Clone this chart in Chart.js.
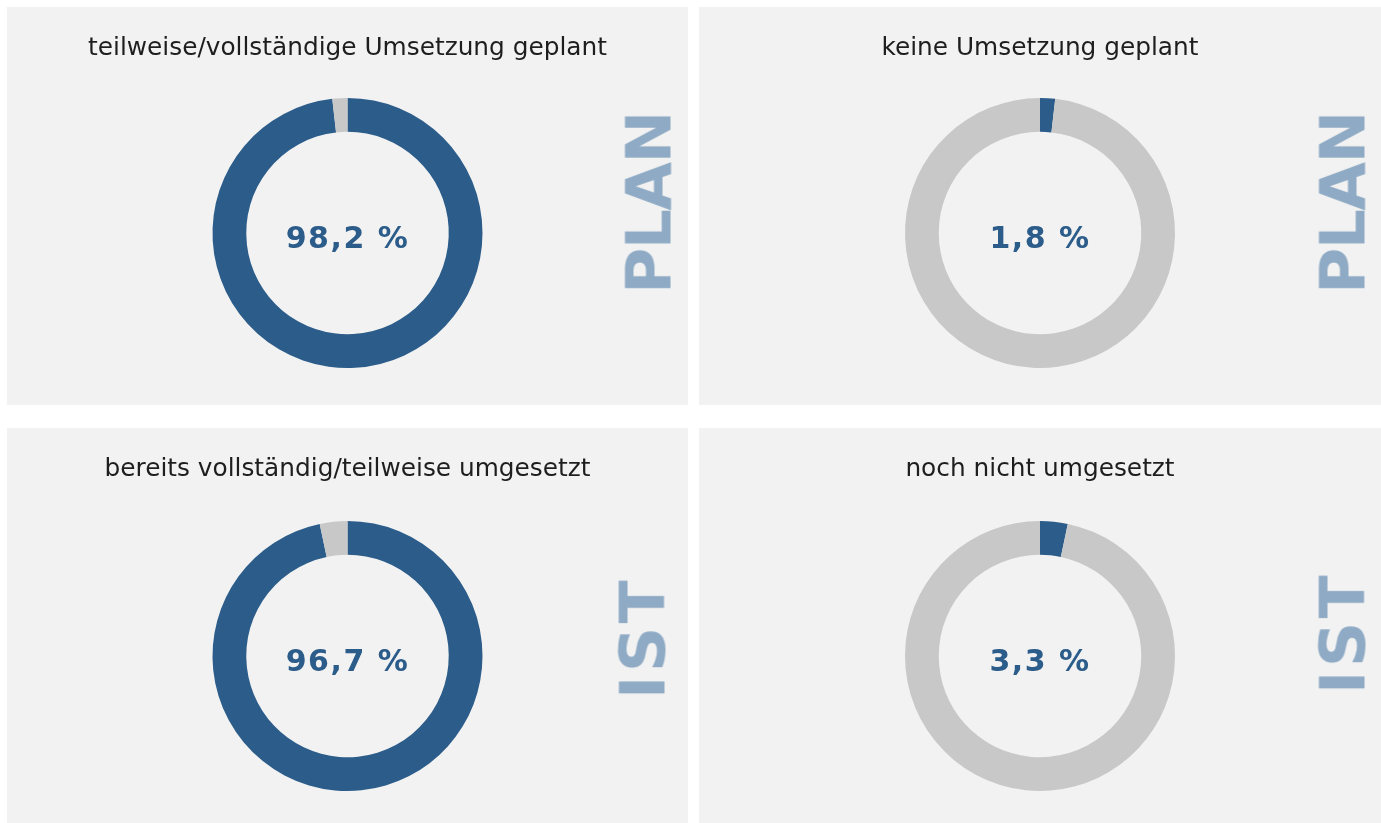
<!DOCTYPE html>
<html>
<head>
<meta charset="utf-8">
<script src="https://cdn.jsdelivr.net/npm/chart.js@4.4.1/dist/chart.umd.min.js"></script>
<style>
  html, body { margin: 0; padding: 0; background: #fff; }
  #board { position: relative; width: 1381px; height: 823px; overflow: hidden; }
  .panel { position: absolute; background: #f2f2f2; }
  .panel canvas { position: absolute; left: 0; top: 0; }
  .title {
    position: absolute; left: 0; right: 0; text-align: center;
    font-family: "DejaVu Sans", Verdana, sans-serif; font-size: 24.8px; color: #1e1e1e;
    white-space: nowrap;
  }
  .value {
    position: absolute; transform: translate(-50%, -50%);
    font-family: "DejaVu Sans", Verdana, sans-serif; font-weight: bold; font-size: 30px;
    letter-spacing: 1.5px; color: #2b5c8a; white-space: nowrap;
  }
  .side {
    position: absolute; transform: translate(-50%, -50%) rotate(-90deg);
    font-family: "DejaVu Sans", Verdana, sans-serif; font-weight: bold; font-size: 63px;
    color: #8eaac4; white-space: nowrap; line-height: 1;
  }
</style>
</head>
<body>
<div id="board"></div>
<script>
// Four donut panels: share implemented/planned vs. not.

const PANEL_TITLES = [
  'teilweise/vollständige Umsetzung geplant',
  'keine Umsetzung geplant',
  'bereits vollständig/teilweise umgesetzt',
  'noch nicht umgesetzt'
];
const SHARE_MAIN = [98.2, 1.8, 96.7, 3.3];   // blue segment, %
const SHARE_REST = [1.8, 98.2, 3.3, 96.7];   // grey segment, %
const SIDE_LABELS = ['PLAN', 'PLAN', 'IST', 'IST'];

const BLUE = '#2b5c8a';
const GREY = '#c8c8c8';

// panel boxes on the 1381x823 board
const PANEL_BOX = [
  {x: 7, y: 7, w: 681, h: 398},
  {x: 699, y: 7, w: 682, h: 398},
  {x: 7, y: 428, w: 681, h: 395},
  {x: 699, y: 428, w: 682, h: 395}
];
const RING_CY = [226, 226, 228, 228];       // donut centre within panel
const RING_R = 135;
const SIDE_POS = [{x: 642, y: 196}, {x: 644, y: 196}, {x: 636, y: 210}, {x: 644, y: 205}];
const SIDE_SPACING = {PLAN: '-1.5px', IST: '3.5px'};

function fmtPct(v) {
  return v.toFixed(1).replace('.', ',') + ' %';
}

const board = document.getElementById('board');

PANEL_TITLES.forEach((title, i) => {
  const box = PANEL_BOX[i];
  const panel = document.createElement('div');
  panel.className = 'panel';
  Object.assign(panel.style, {left: box.x + 'px', top: box.y + 'px', width: box.w + 'px', height: box.h + 'px'});
  board.appendChild(panel);

  const canvas = document.createElement('canvas');
  canvas.width = box.w;
  canvas.height = box.h;
  canvas.style.width = box.w + 'px';
  canvas.style.height = box.h + 'px';
  panel.appendChild(canvas);

  const t = document.createElement('div');
  t.className = 'title';
  t.style.top = '25px';
  t.textContent = title;
  panel.appendChild(t);

  const v = document.createElement('div');
  v.className = 'value';
  v.style.left = (box.w / 2) + 'px';
  v.style.top = (RING_CY[i] + 4) + 'px';
  v.textContent = fmtPct(SHARE_MAIN[i]);
  panel.appendChild(v);

  const s = document.createElement('div');
  s.className = 'side';
  s.style.left = SIDE_POS[i].x + 'px';
  s.style.top = SIDE_POS[i].y + 'px';
  s.style.letterSpacing = SIDE_SPACING[SIDE_LABELS[i]];
  s.textContent = SIDE_LABELS[i];
  panel.appendChild(s);

  new Chart(canvas.getContext('2d'), {
    type: 'doughnut',
    data: {
      labels: ['ja', 'nein'],
      datasets: [{
        data: [SHARE_MAIN[i], SHARE_REST[i]],
        backgroundColor: [BLUE, GREY],
        borderWidth: 0
      }]
    },
    options: {
      responsive: false,
      animation: false,
      cutout: '75%',
      layout: {
        padding: {top: RING_CY[i] - RING_R, bottom: box.h - RING_CY[i] - RING_R, left: 0, right: 0}
      },
      plugins: {
        legend: {display: false},
        tooltip: {enabled: false}
      }
    }
  });
});
</script>
</body>
</html>
